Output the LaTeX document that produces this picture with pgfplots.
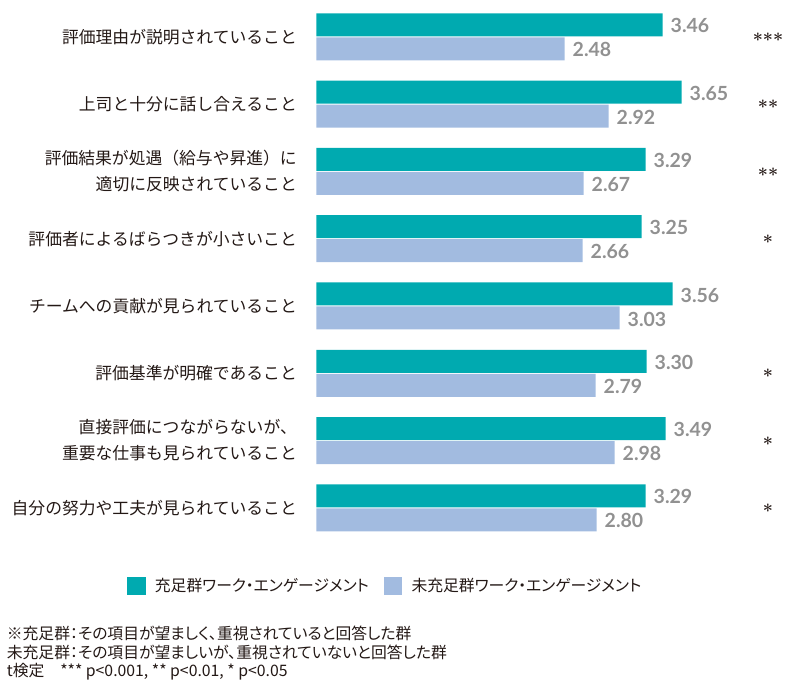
\documentclass[border=0pt]{standalone}
\usepackage{fontspec}
\usepackage{pgfplots}
\pgfplotsset{compat=1.18}
\newfontfamily\jp{Noto Sans CJK JP}
\newfontfamily\jpp{Noto Sans CJK JP}[RawFeature=+palt]
\newfontfamily\numfont{Lato}
\definecolor{teal1}{RGB}{0,170,176}
\definecolor{blue1}{RGB}{162,187,224}
\definecolor{valgray}{RGB}{145,145,145}
\definecolor{txt}{RGB}{35,24,21}
\begin{document}
\begin{tikzpicture}
\useasboundingbox (0,0) rectangle (790pt,693pt);
\begin{axis}[
  at={(316.5pt,151.5pt)}, anchor=south west,
  scale only axis, width=450pt, height=538.3pt,
  xbar, bar width=23pt,
  xmin=0, xmax=4.5, ymin=-0.5, ymax=7.5,
  axis line style={draw=none}, tick style={draw=none}, major tick length=0pt,
  xtick=\empty, ytick={0,...,7},
  yticklabels={自分の努力や工夫が見られていること, {直接評価につながらないが、\\重要な仕事も見られていること}, 評価基準が明確であること, チームへの貢献が見られていること, 評価者によるばらつきが小さいこと, {評価結果が処遇（給与や昇進）に\\適切に反映されていること}, 上司と十分に話し合えること, 評価理由が説明されていること},
  yticklabel style={align=right, font=\jp\fontsize{16.8}{26}\selectfont, text=txt, inner sep=0pt, xshift=-19.5pt},
  clip=false,
  nodes near coords={\pgfmathprintnumber[fixed,fixed zerofill,precision=2,assume math mode=true]{\pgfplotspointmeta}},
  nodes near coords align={horizontal},
  every node near coord/.append style={font=\numfont\bfseries\fontsize{19.5}{19.5}\selectfont, text=valgray, inner sep=0pt, xshift=8pt, yshift=-1pt},
  legend columns=2,
  legend image code/.code={\draw[#1,draw=none] (0pt,-9.15pt) rectangle (18.3pt,9.15pt);},
  legend style={at={(axis description cs:-0.4204,-0.0827)}, anchor=west, draw=none, inner sep=0pt, outer sep=0pt,
    font=\jpp\fontsize{15.8}{18}\selectfont, text=txt, nodes={inner sep=0pt},
    /tikz/every odd column/.append style={column sep=9.3pt},
    /tikz/every even column/.append style={column sep=15pt}},
]
\addplot[fill=teal1, draw=none, bar shift=12pt] coordinates {
  (3.29,0) (3.49,1) (3.30,2) (3.56,3) (3.25,4) (3.29,5) (3.65,6) (3.46,7)};
\addplot[fill=blue1, draw=none, bar shift=-12pt] coordinates {
  (2.80,0) (2.98,1) (2.79,2) (3.03,3) (2.66,4) (2.67,5) (2.92,6) (2.48,7)};
\legend{充足群ワーク・エンゲージメント, 未充足群ワーク・エンゲージメント}
\node[font=\bfseries\fontsize{18}{18}\selectfont, text=txt, anchor=base, yshift=-9.6pt] at (axis cs:4.515,7) {***};
\node[font=\bfseries\fontsize{18}{18}\selectfont, text=txt, anchor=base, yshift=-9.6pt] at (axis cs:4.515,6) {**};
\node[font=\bfseries\fontsize{18}{18}\selectfont, text=txt, anchor=base, yshift=-9.6pt] at (axis cs:4.515,5) {**};
\node[font=\bfseries\fontsize{18}{18}\selectfont, text=txt, anchor=base, yshift=-9.6pt] at (axis cs:4.515,4) {*};
\node[font=\bfseries\fontsize{18}{18}\selectfont, text=txt, anchor=base, yshift=-9.6pt] at (axis cs:4.515,2) {*};
\node[font=\bfseries\fontsize{18}{18}\selectfont, text=txt, anchor=base, yshift=-9.6pt] at (axis cs:4.515,1) {*};
\node[font=\bfseries\fontsize{18}{18}\selectfont, text=txt, anchor=base, yshift=-9.6pt] at (axis cs:4.515,0) {*};
\end{axis}
\node[anchor=west, font=\jpp\fontsize{15.8}{18}\selectfont, text=txt, inner sep=0pt] at (6.7pt,59.7pt) {※充足群：その項目が望ましく、重視されていると回答した群};
\node[anchor=west, font=\jpp\fontsize{15.8}{18}\selectfont, text=txt, inner sep=0pt] at (6.7pt,40.5pt) {未充足群：その項目が望ましいが、重視されていないと回答した群};
\node[anchor=west, font=\jpp\fontsize{15.8}{18}\selectfont, text=txt, inner sep=0pt] at (6.7pt,21.3pt) {t検定　*** p<0.001, ** p<0.01, * p<0.05};
\end{tikzpicture}
\end{document}
